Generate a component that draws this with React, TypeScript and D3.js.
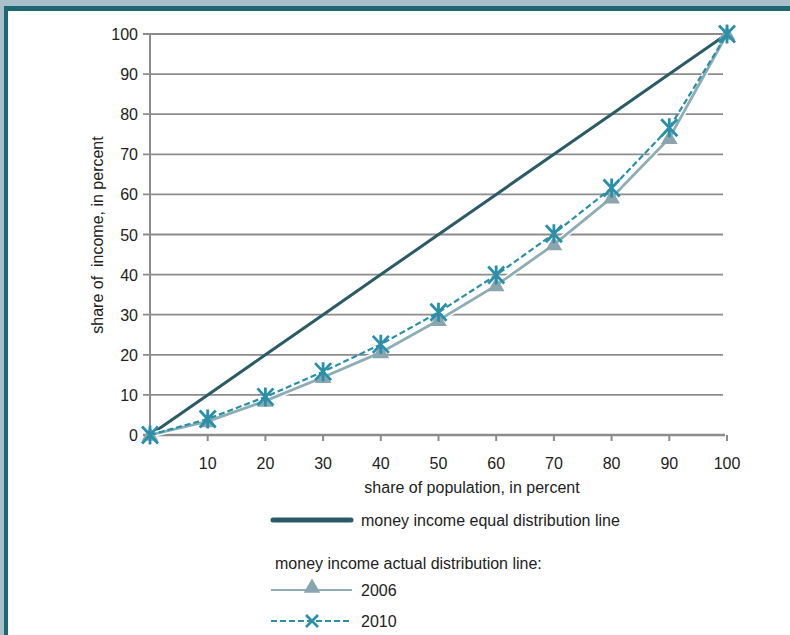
import React from "react";
import * as d3 from "d3";

const populationShare = [0, 10, 20, 30, 40, 50, 60, 70, 80, 90, 100];
const equalLine = [0, 10, 20, 30, 40, 50, 60, 70, 80, 90, 100];
const income2006 = [0, 3.4, 8.5, 14.4, 20.6, 28.6, 37.3, 47.5, 59.2, 74.0, 100];
const income2010 = [0, 4.0, 9.5, 15.8, 22.6, 30.6, 39.9, 50.2, 61.6, 76.6, 100];
const xTicks = [10, 20, 30, 40, 50, 60, 70, 80, 90, 100];
const yTicks = [0, 10, 20, 30, 40, 50, 60, 70, 80, 90, 100];

const W = 790;
const H = 635;
const FONT = "'Liberation Sans', Arial, sans-serif";
const FS = 16;

export default function App() {
  const x = d3.scaleLinear().domain([0, 100]).range([150, 727]);
  const y = d3.scaleLinear().domain([0, 100]).range([435, 34]);
  const line = d3
    .line<number>()
    .x((_, i) => x(populationShare[i]))
    .y((d) => y(d));

  const tri = d3.symbol().type(d3.symbolTriangle).size(120)();
  const xMarker = (cx: number, cy: number, key: string | number) => (
    <g key={key} transform={`translate(${cx},${cy})`} stroke="#2a90aa" strokeWidth={2.8} fill="none">
      <path d="M-8,-8.5L8,8.5M-8,8.5L8,-8.5M0,-9.5L0,9.5" />
    </g>
  );

  return (
    <svg
      width={W}
      height={H}
      style={{ position: "absolute", left: 0, top: 0 }}
      fontFamily={FONT}
    >
      <rect x={0} y={0} width={W} height={H} fill="#a9c0cb" />
      <rect x={4} y={6} width={W} height={H} fill="#1e6674" />
      <rect x={8} y={11} width={W} height={H} fill="#ffffff" />

      {/* gridlines */}
      {yTicks.map((t) => (
        <line
          key={"g" + t}
          x1={143}
          x2={t === 0 ? 725 : 723}
          y1={y(t)}
          y2={y(t)}
          stroke="#8c8c8c"
          strokeWidth={t === 0 ? 2.4 : 1.8}
        />
      ))}
      {/* y axis */}
      <line x1={150} x2={150} y1={33} y2={436} stroke="#8c8c8c" strokeWidth={2} />
      {xTicks.map((t) => (
        <line key={"xt" + t} x1={x(t)} x2={x(t)} y1={435} y2={441} stroke="#8c8c8c" strokeWidth={2} />
      ))}
      {yTicks.map((t) => (
        <text key={"yl" + t} x={138} y={y(t) + 6} fontSize={FS} textAnchor="end" fill="#222">
          {t}
        </text>
      ))}
      {xTicks.map((t) => (
        <text key={"xl" + t} x={x(t)} y={469} fontSize={FS} textAnchor="middle" fill="#222">
          {t}
        </text>
      ))}
      <text x={472} y={493} fontSize={FS} textAnchor="middle" fill="#222">
        share of population, in percent
      </text>
      <text
        transform={`translate(103,235) rotate(-90)`}
        fontSize={FS}
        textAnchor="middle"
        fill="#222"
        style={{ whiteSpace: "pre" }}
      >
        {"share of  income, in percent"}
      </text>

      {/* equal line */}
      <path d={line(equalLine) || ""} fill="none" stroke="#2a5b67" strokeWidth={3} />

      {/* 2006 */}
      <path d={line(income2006) || ""} fill="none" stroke="#ffffff" strokeWidth={5.5} />
      <path d={line(income2006) || ""} fill="none" stroke="#8eaeb6" strokeWidth={2.8} />
      {income2006.map((v, i) => (
        <path
          key={"t" + i}
          d={tri || ""}
          transform={`translate(${x(populationShare[i])},${y(v) + 1})`}
          fill="#8aa5ad"
        />
      ))}

      {/* 2010 */}
      <path
        d={line(income2010) || ""}
        fill="none"
        stroke="#2a90aa"
        strokeWidth={2.2}
        strokeDasharray="6,3"
      />
      {income2010.map((v, i) => xMarker(x(populationShare[i]), y(v), "x" + i))}

      {/* legend */}
      <line x1={273} x2={351} y1={520} y2={520} stroke="#2a5b67" strokeWidth={5} strokeLinecap="round" />
      <text x={361} y={526} fontSize={FS} fill="#222">
        money income equal distribution line
      </text>
      <text x={275} y={569} fontSize={FS} fill="#222">
        money income actual distribution line:
      </text>
      <line x1={271} x2={352} y1={590} y2={590} stroke="#8eaeb6" strokeWidth={2} />
      <path d={tri || ""} transform={`translate(312,588)`} fill="#8aa5ad" />
      <text x={361} y={596} fontSize={FS} fill="#222">
        2006
      </text>
      <line
        x1={271}
        x2={352}
        y1={621}
        y2={621}
        stroke="#2a90aa"
        strokeWidth={2}
        strokeDasharray="6,3"
      />
      <g transform="translate(312,621)" stroke="#2a90aa" strokeWidth={2.6} fill="none">
        <path d="M-6,-6L6,6M-6,6L6,-6" />
      </g>
      <text x={361} y={627} fontSize={FS} fill="#222">
        2010
      </text>
    </svg>
  );
}
